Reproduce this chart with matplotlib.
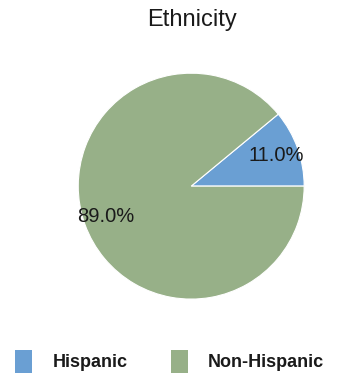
import matplotlib.pyplot as plt
from matplotlib.patches import Patch

plt.rcParams["font.family"] = ["Liberation Sans", "DejaVu Sans"]

categories = ["Hispanic", "Non-Hispanic"]
shares = [11.0, 89.0]
colors = ["#6a9fd3", "#97b088"]

fig = plt.figure(figsize=(3.39, 3.83), dpi=100)
# pie fills +/-1.25 of its axes, so this box gives a radius of ~113 px
ax = fig.add_axes([0.1475, 0.145, 0.833, 0.738])

ax.pie(shares, colors=colors, startangle=0, counterclock=True,
       autopct="%1.1f%%", pctdistance=0.8,
       wedgeprops=dict(edgecolor="white", linewidth=0.8),
       textprops=dict(fontsize=14.5, color="#1a1a1a"))
ax.set_aspect("equal")

fig.text(0.566, 0.947, "Ethnicity", ha="center", va="center", fontsize=17, color="#1a1a1a")

handles = [Patch(facecolor=c, edgecolor="none") for c in colors]
leg = fig.legend(handles, categories, loc="center", bbox_to_anchor=(0.5, 0.057), ncol=2,
                 frameon=False, handlelength=0.95, handleheight=1.6, handletextpad=1.1,
                 columnspacing=2.4, prop=dict(weight="bold", size=13))
for t in leg.get_texts():
    t.set_color("#1a1a1a")

fig.savefig("out.png", dpi=100)
